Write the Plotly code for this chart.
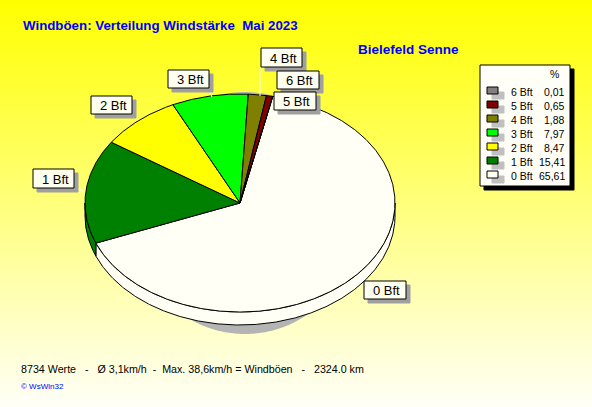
import numpy as np
import plotly.graph_objects as go

categories = ['0 Bft', '1 Bft', '2 Bft', '3 Bft', '4 Bft', '5 Bft', '6 Bft']
percent = [65.61, 15.41, 8.47, 7.97, 1.88, 0.65, 0.01]
percent_text = ['65,61', '15,41', '8,47', '7,97', '1,88', '0,65', '0,01']
colors = ['#FFFFF5', '#008000', '#FFFF00', '#00FF00', '#808000', '#800000', '#808080']

CX, CY = 240, 203
RX, RY = 155, 109
DEPTH = 13
START = 12.2
FONT = 'Liberation Sans'


def ring(a0, a1, cy=CY, n=None):
    n = n or max(3, int(abs(a1 - a0)) * 2)
    t = np.radians(np.linspace(a0, a1, n))
    return CX + RX * np.sin(t), cy - RY * np.cos(t)


fig = go.Figure()

# background gradient
fig.add_trace(go.Heatmap(z=[[0, 0], [1, 1]], x=[0, 592], y=[0, 407], zsmooth='best', showscale=False,
                         colorscale=[[0, '#FFFF00'], [1, '#FFFFF8']], hoverinfo='skip'))

# grey shadow, only its top and bottom show behind the pie
t = np.radians(np.linspace(0, 360, 361))
fig.add_trace(go.Scatter(x=245 + 115 * np.sin(t), y=213 - 121 * np.cos(t), fill='toself',
                         fillcolor='#B4B4B4', mode='none', hoverinfo='skip'))

# sides and tops of the wedges
angle = START
tops = []
for pct, color in zip(percent, colors):
    span = pct * 3.6
    tops.append((angle, angle + span, color))
    angle += span

for a0, a1, color in tops:
    # only the front half has a visible side
    lo, hi = max(a0, 90), min(a1, 270)
    if hi > lo:
        x1, y1 = ring(lo, hi)
        x2, y2 = ring(hi, lo, cy=CY + DEPTH)
        fig.add_trace(go.Scatter(x=np.r_[x1, x2, x1[0]], y=np.r_[y1, y2, y1[0]], fill='toself',
                                 fillcolor=color, mode='lines', line=dict(color='black', width=1),
                                 hoverinfo='skip'))

for a0, a1, color in tops:
    x1, y1 = ring(a0, a1)
    fig.add_trace(go.Scatter(x=np.r_[CX, x1, CX], y=np.r_[CY, y1, CY], fill='toself',
                             fillcolor=color, mode='lines', line=dict(color='black', width=1),
                             hoverinfo='skip'))

shapes = []
annotations = []


def text(x, y, s, size=10, color='black', bold=False, anchor='left'):
    annotations.append(dict(x=x, y=y, xref='x', yref='y', text='<b>%s</b>' % s if bold else s, showarrow=False,
                            xanchor=anchor, yanchor='middle', borderpad=0,
                            font=dict(family=FONT, size=size, color=color)))


def rect(x0, y0, x1, y1, fill, line='black'):
    shapes.append(dict(type='rect', x0=x0, y0=y0, x1=x1, y1=y1, fillcolor=fill,
                       line=dict(color=line, width=1), layer='above'))


def tick(x0, y0, x1, y1):
    shapes.append(dict(type='line', x0=x0, y0=y0, x1=x1, y1=y1, line=dict(color='white', width=1), layer='above'))


# short white leaders from the labels to the pie
tick(260, 68, 260, 96)
tick(74, 188, 85, 192)
tick(133, 115, 139, 120)
tick(209, 88, 212, 97)

# pie labels, box left/top/right/bottom
label_boxes = {'0 Bft': (364, 281, 406, 299), '1 Bft': (33, 169, 74, 188), '2 Bft': (91, 96, 132, 114),
               '3 Bft': (168, 70, 209, 88), '4 Bft': (261, 48, 302, 67), '5 Bft': (274, 92, 316, 110),
               '6 Bft': (277, 71, 319, 89)}
for name in ['0 Bft', '1 Bft', '2 Bft', '3 Bft', '4 Bft', '6 Bft', '5 Bft']:
    x0, y0, x1, y1 = label_boxes[name]
    rect(x0 + 4, y0 + 4, x1 + 4, y1 + 4, '#A0A0A0', '#A0A0A0')
    rect(x0, y0, x1, y1, '#FFFFF0')
    text((x0 + x1) / 2 + 1.5, (y0 + y1) / 2 + 0.5, name, size=13, anchor='center')

# legend box
rect(484, 69, 574, 190, 'black', 'black')
rect(480, 65, 570, 186, '#FFFFF8')
text(549, 74, '%', size=10.5)
for i, name in enumerate(categories[::-1]):
    y = 92 + i * 14
    rect(492, y, 504, y + 7, '#C0C0C0', '#C0C0C0')
    rect(487, y - 5, 498, y + 2, colors[::-1][i])
    text(510, y, name, size=10.5)
    text(566, y, percent_text[::-1][i], size=10.5, anchor='right')

# titles and footer
text(22, 25, 'Windböen: Verteilung Windstärke  Mai 2023', size=13.3, color='#0000FF', bold=True)
text(357, 49, 'Bielefeld Senne', size=13.5, color='#0000FF', bold=True)
text(20, 369, '8734 Werte   -   Ø 3,1km/h  -  Max. 38,6km/h = Windböen   -   2324.0 km', size=10.7)
text(20, 386, '© WsWin32', size=8, color='#0000FF')

fig.update_layout(width=592, height=407, margin=dict(l=0, r=0, t=0, b=0), showlegend=False,
                  paper_bgcolor='white', plot_bgcolor='white', shapes=shapes, annotations=annotations,
                  xaxis=dict(range=[0, 592], visible=False, fixedrange=True),
                  yaxis=dict(range=[407, 0], visible=False, fixedrange=True))
fig.write_html("out.html", config=dict(displayModeBar=False),
               post_script="document.body.style.margin='0';document.body.style.overflow='hidden';")
